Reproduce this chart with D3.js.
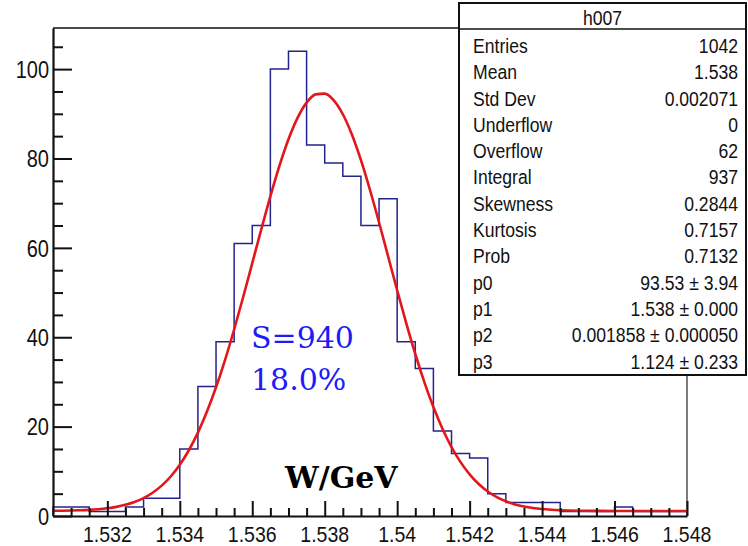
<!DOCTYPE html>
<html lang="en">
<head>
<meta charset="UTF-8">
<title>h007</title>
<script src="https://d3js.org/d3.v7.min.js"></script>
<style>
  body { margin: 0; background: #fff; }
  svg { display: block; }
  .lbl { font-family: "Liberation Sans", Arial, sans-serif; fill: #111; }
</style>
</head>
<body>
<svg width="748" height="546"></svg>
<script>
// histogram: 35 bins of 0.0005 starting at 1.5305
const binStart = 1.5305;
const binWidth = 0.0005;
const counts = [2, 2, 1, 1, 2, 4, 4, 15, 29, 39, 61, 65, 100, 104, 83, 79, 76, 65, 71, 39,
                33, 19, 14, 13, 5, 3, 3, 3, 1, 1, 1, 2, 1, 1, 1];

// fit curve
const fitX = [1.5305, 1.53075, 1.531, 1.53125, 1.5315, 1.53175, 1.532, 1.53225, 1.5325, 1.53275,
              1.533, 1.53325, 1.5335, 1.53375, 1.534, 1.53425, 1.5345, 1.53475, 1.535, 1.53525,
              1.5355, 1.53575, 1.536, 1.53625, 1.5365, 1.53675, 1.537, 1.53725, 1.5375, 1.53775,
              1.538, 1.53825, 1.5385, 1.53875, 1.539, 1.53925, 1.5395, 1.53975, 1.54, 1.54025,
              1.5405, 1.54075, 1.541, 1.54125, 1.5415, 1.54175, 1.542, 1.54225, 1.5425, 1.54275,
              1.543, 1.54325, 1.5435, 1.54375, 1.544, 1.54425, 1.5445, 1.54475, 1.545, 1.5455,
              1.546, 1.5465, 1.547, 1.5475, 1.548];
const fitY = [1.16, 1.18, 1.22, 1.28, 1.37, 1.51, 1.73, 2.04, 2.50, 3.13,
              4.01, 5.21, 6.79, 8.84, 11.46, 14.71, 18.65, 23.36, 28.80, 34.95,
              41.73, 49.01, 56.57, 64.17, 71.54, 78.35, 84.30, 89.10, 92.51, 94.35,
              94.52, 93.01, 89.90, 85.37, 79.62, 72.95, 65.68, 58.09, 50.51, 43.16,
              36.25, 29.97, 24.38, 19.53, 15.43, 12.06, 9.32, 7.16, 5.49, 4.22,
              3.29, 2.60, 2.12, 1.78, 1.55, 1.40, 1.29, 1.23, 1.19, 1.15,
              1.13, 1.13, 1.12, 1.12, 1.12];

const xMajor = [1.532, 1.534, 1.536, 1.538, 1.540, 1.542, 1.544, 1.546, 1.548];
const xLabels = ["1.532", "1.534", "1.536", "1.538", "1.54", "1.542", "1.544", "1.546", "1.548"];
const yMajor = [0, 20, 40, 60, 80, 100];

const statTitle = "h007";
const statNames = ["Entries", "Mean", "Std Dev", "Underflow", "Overflow", "Integral", "Skewness",
                   "Kurtosis", "Prob", "p0", "p1", "p2", "p3"];
const statValues = ["1042", "1.538", "0.002071", "0", "62", "937", "0.2844", "0.7157", "0.7132",
                    "93.53 \u00b1 3.94", "1.538 \u00b1 0.000", "0.001858 \u00b1 0.000050", "1.124 \u00b1 0.233"];

const noteLines = ["S=940", "18.0%"];
const axisTitle = "W/GeV";

const svg = d3.select("svg");
const L = 53, R = 687, T = 28, B = 516;

const x = d3.scaleLinear().domain([1.5305, 1.548]).range([L, R]);
const y = d3.scaleLinear().domain([0, 109.2]).range([B, T]);

// frame top / right
svg.append("line").attr("x1", L).attr("x2", R).attr("y1", T).attr("y2", T)
  .attr("stroke", "#111").attr("stroke-width", 1.6);
svg.append("line").attr("x1", R).attr("x2", R).attr("y1", T).attr("y2", B)
  .attr("stroke", "#444").attr("stroke-width", 1.4);

// histogram outline
const pts = [[x(binStart), y(0)]];
counts.forEach((c, i) => {
  const lo = binStart + i * binWidth, hi = lo + binWidth;
  pts.push([x(lo), y(c)], [x(hi), y(c)]);
});
pts.push([x(binStart + counts.length * binWidth), y(0)]);
svg.append("path")
  .attr("d", d3.line()(pts))
  .attr("fill", "none")
  .attr("stroke", "#23238c")
  .attr("stroke-width", 1.5);

// fit curve
svg.append("path")
  .datum(fitX.map((v, i) => [v, fitY[i]]))
  .attr("d", d3.line().x(d => x(d[0])).y(d => y(d[1])).curve(d3.curveMonotoneX))
  .attr("fill", "none")
  .attr("stroke", "#e3161c")
  .attr("stroke-width", 2.6);

// axes
const xMinor = d3.range(1, 36).map(i => binStart + i * binWidth)
  .filter(v => !xMajor.some(m => Math.abs(m - v) < 1e-7) && v < 1.548 - 1e-7);
const gx = svg.append("g").attr("transform", `translate(0,${B})`);
gx.call(d3.axisBottom(x).tickValues(xMajor).tickSize(-15).tickSizeOuter(0).tickFormat(""));
gx.append("g").call(d3.axisBottom(x).tickValues(xMinor).tickSize(-8).tickSizeOuter(0).tickFormat(""))
  .select(".domain").remove();
gx.selectAll("line").attr("stroke", "#111").attr("stroke-width", 2);
gx.select(".domain").attr("stroke", "#111").attr("stroke-width", 2.2);

const yMinor = d3.range(5, 110, 5).filter(v => v % 20 !== 0);
const gy = svg.append("g").attr("transform", `translate(${L},0)`);
gy.call(d3.axisLeft(y).tickValues(yMajor).tickSize(-19).tickSizeOuter(0).tickFormat(""));
gy.append("g").call(d3.axisLeft(y).tickValues(yMinor).tickSize(-10).tickSizeOuter(0).tickFormat(""))
  .select(".domain").remove();
gy.selectAll("line").attr("stroke", "#111").attr("stroke-width", 2);
gy.select(".domain").attr("stroke", "#111").attr("stroke-width", 2.2);

// stretched text helper
function stext(px, py, str, size, sy, anchor) {
  return svg.append("g").attr("transform", `translate(${px},${py}) scale(1,${sy})`)
    .append("text").attr("class", "lbl").attr("font-size", size)
    .attr("text-anchor", anchor || "start").text(str);
}

xMajor.forEach((v, i) => stext(x(v), 541.5, xLabels[i], 19.5, 1.17, "middle"));
yMajor.forEach(v => stext(49, y(v) + 8.8, String(v), 20, 1.22, "end"));

// annotations
svg.selectAll(".note").data(noteLines).enter().append("text")
  .attr("class", "note")
  .attr("x", 251)
  .attr("y", (d, i) => 348 + i * 42)
  .attr("font-family", "'DejaVu Serif', serif")
  .attr("font-size", 30)
  .attr("fill", "#1c1cf5")
  .text(d => d);

svg.append("text")
  .attr("x", 285).attr("y", 488)
  .attr("font-family", "'DejaVu Serif', serif")
  .attr("font-weight", "bold")
  .attr("font-size", 30)
  .attr("fill", "#000")
  .text(axisTitle);

// stats box
const bx0 = 459, bx1 = 746, by0 = 3, by1 = 375, headB = 29;
svg.append("rect").attr("x", bx0).attr("y", by0).attr("width", bx1 - bx0).attr("height", by1 - by0)
  .attr("fill", "#fff").attr("stroke", "#111").attr("stroke-width", 2);
svg.append("line").attr("x1", bx0).attr("x2", bx1).attr("y1", headB).attr("y2", headB)
  .attr("stroke", "#111").attr("stroke-width", 1.6);
stext((bx0 + bx1) / 2, 24.5, statTitle, 17.6, 1.13, "middle");

const rowY = d3.scaleLinear().domain([0, statNames.length - 1]).range([53, 368.5]);
statNames.forEach((n, i) => {
  stext(473, rowY(i), n, 17.6, 1.13, "start");
  stext(738, rowY(i), statValues[i], 17.6, 1.13, "end");
});
</script>
</body>
</html>
